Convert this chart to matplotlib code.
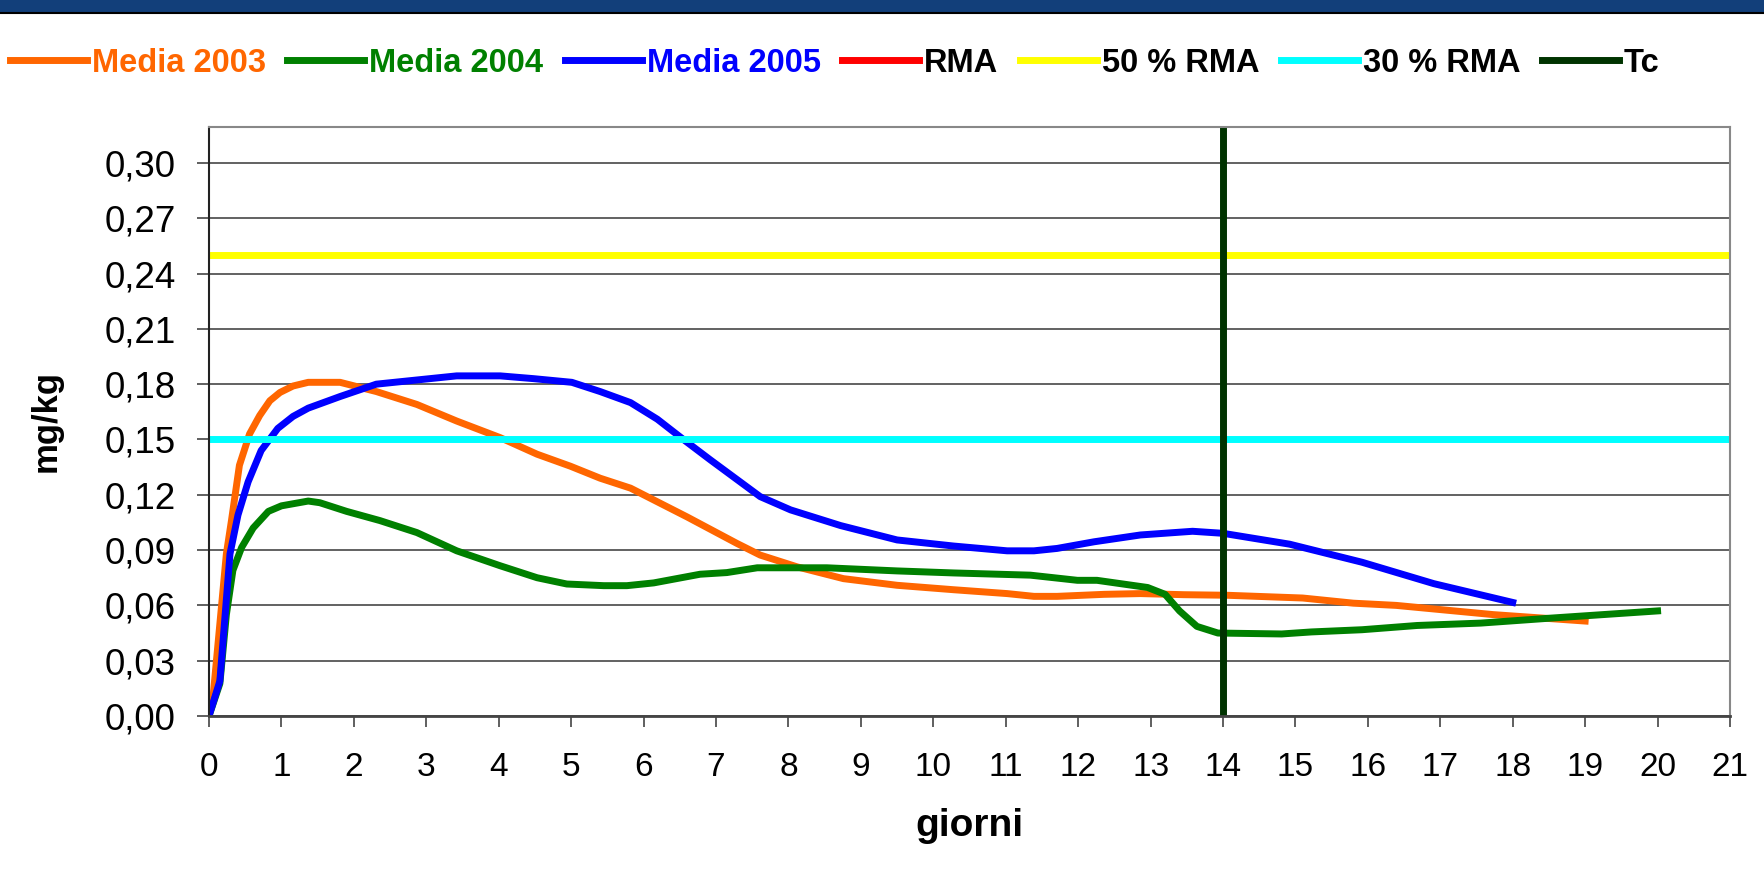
import matplotlib
matplotlib.use("Agg")
import matplotlib.pyplot as plt
from matplotlib.patches import Rectangle
from matplotlib.ticker import FuncFormatter

plt.rcParams["font.family"] = ["Liberation Sans", "DejaVu Sans"]

# data (giorni vs mg/kg)
x_2003 = [0, 0.06, 0.24, 0.31, 0.42, 0.56, 0.70, 0.84, 0.98, 1.16, 1.37, 1.81, 2.31, 2.87,
          3.42, 4.02, 4.53, 4.99, 5.40, 5.82, 6.60, 7.29, 7.61, 8.12, 8.76, 9.50, 10.28,
          11.02, 11.39, 11.71, 12.36, 12.86, 13.46, 14.05, 15.1, 15.8, 16.39, 17.73, 19.0]
y_2003 = [0, 0.012, 0.088, 0.106, 0.136, 0.153, 0.163, 0.171, 0.1755, 0.179, 0.181, 0.181,
          0.176, 0.169, 0.160, 0.151, 0.142, 0.1355, 0.129, 0.1236, 0.108, 0.0936, 0.0873,
          0.0809, 0.0745, 0.0709, 0.0685, 0.0664, 0.0649, 0.0649, 0.066, 0.0664, 0.0658,
          0.0655, 0.0640, 0.0612, 0.0600, 0.0550, 0.0515]

x_2004 = [0, 0.15, 0.24, 0.33, 0.45, 0.61, 0.82, 1.0, 1.37, 1.53, 1.90, 2.36, 2.87, 3.42,
          4.02, 4.53, 4.94, 5.45, 5.77, 6.14, 6.78, 7.15, 7.57, 8.53, 9.50, 10.28, 11.34,
          11.99, 12.26, 12.96, 13.2, 13.4, 13.64, 13.93, 14.81, 15.22, 15.92, 16.68, 17.56,
          18.49, 20.0]
y_2004 = [0, 0.0176, 0.055, 0.079, 0.0914, 0.102, 0.111, 0.114, 0.1166, 0.1157, 0.111, 0.106,
          0.0995, 0.0896, 0.0815, 0.075, 0.0716, 0.0707, 0.0707, 0.0722, 0.0769, 0.0778,
          0.0804, 0.0804, 0.0787, 0.0776, 0.0764, 0.0736, 0.0736, 0.0697, 0.066, 0.057,
          0.0486, 0.0450, 0.0445, 0.0456, 0.0468, 0.0491, 0.0504, 0.053, 0.057]

x_2005 = [0, 0.15, 0.29, 0.40, 0.54, 0.72, 0.95, 1.16, 1.37, 1.81, 2.31, 3.42, 4.02, 4.48,
          5.01, 5.40, 5.82, 6.19, 6.55, 6.92, 7.61, 8.03, 8.72, 9.50, 10.28, 11.02, 11.39,
          11.71, 12.22, 12.86, 13.58, 14.0, 14.92, 15.92, 16.91, 18.0]
y_2005 = [0, 0.019, 0.088, 0.109, 0.127, 0.144, 0.156, 0.1625, 0.167, 0.1733, 0.180, 0.1845,
          0.1845, 0.183, 0.181, 0.176, 0.170, 0.161, 0.150, 0.139, 0.119, 0.1118, 0.1033,
          0.0955, 0.0922, 0.0896, 0.0896, 0.0909, 0.0945, 0.0982, 0.1002, 0.0991, 0.0932,
          0.0834, 0.0718, 0.0616]

rma = 0.50
rma_50 = 0.25
rma_30 = 0.15
tc = 14

series_labels = ["Media 2003", "Media 2004", "Media 2005", "RMA", "50 % RMA", "30 % RMA", "Tc"]
series_colors = ["#FF6600", "#008000", "#0000FF", "#FF0000", "#FFFF00", "#00FFFF", "#003300"]
text_colors = ["#FF6600", "#008000", "#0000FF", "black", "black", "black", "black"]

fig = plt.figure(figsize=(17.65, 8.74), dpi=100)

# dark banner at the very top of the slide
fig.patches.append(Rectangle((0, 1 - 12 / 874), 1, 12 / 874, transform=fig.transFigure,
                             facecolor="#123f7a", edgecolor="none", zorder=0))
fig.lines.append(plt.Line2D([0, 1], [1 - 13 / 874, 1 - 13 / 874], transform=fig.transFigure,
                            color="black", lw=1.5))

ax = fig.add_axes([209 / 1765, 1 - 716 / 874, (1730 - 209) / 1765, (716 - 127) / 874])

lw = 5.0
handles = []
handles += ax.plot(x_2003, y_2003, color=series_colors[0], lw=lw, label=series_labels[0])
handles += ax.plot(x_2004, y_2004, color=series_colors[1], lw=lw, label=series_labels[1])
handles += ax.plot(x_2005, y_2005, color=series_colors[2], lw=lw, label=series_labels[2])
handles.append(ax.axhline(rma, color=series_colors[3], lw=lw, label=series_labels[3]))
handles.append(ax.axhline(rma_50, color=series_colors[4], lw=lw, label=series_labels[4]))
handles.append(ax.axhline(rma_30, color=series_colors[5], lw=lw, label=series_labels[5]))
handles.append(ax.axvline(tc, color=series_colors[6], lw=lw, label=series_labels[6]))

ax.set_xlim(0, 21)
ax.set_ylim(0, 0.3195)
ax.set_xticks(range(0, 22))
ax.set_yticks([i * 0.03 for i in range(11)])
ax.yaxis.set_major_formatter(FuncFormatter(lambda v, p: f"{v:.2f}".replace(".", ",")))

ax.grid(axis="y", color="#555555", lw=1.3)
ax.set_axisbelow(True)
for s in ["top", "right"]:
    ax.spines[s].set_color("#888888")
    ax.spines[s].set_linewidth(1.5)
ax.spines["left"].set_color("#222222")
ax.spines["left"].set_linewidth(1.5)
ax.spines["bottom"].set_color("#444444")
ax.spines["bottom"].set_linewidth(2)

ax.tick_params(axis="y", direction="out", length=9, width=1.2, color="#444444",
               labelsize=26.5, pad=15)
ax.tick_params(axis="x", direction="out", length=8, width=1.2, color="#444444",
               labelsize=24, pad=18)

ax.set_ylabel("mg/kg", fontsize=25, fontweight="bold", labelpad=30)
ax.set_xlabel("giorni", fontsize=28, fontweight="bold", labelpad=18)

leg = fig.legend(handles, series_labels, loc="center left",
                 bbox_to_anchor=(10 / 1765, 1 - 63 / 874), ncol=7, frameon=False,
                 prop={"weight": "bold", "size": 23.5}, handlelength=2.36,
                 handletextpad=0.15, columnspacing=0.66, borderaxespad=0, borderpad=0)
for t, c in zip(leg.get_texts(), text_colors):
    t.set_color(c)

fig.savefig("out.png", dpi=100)
